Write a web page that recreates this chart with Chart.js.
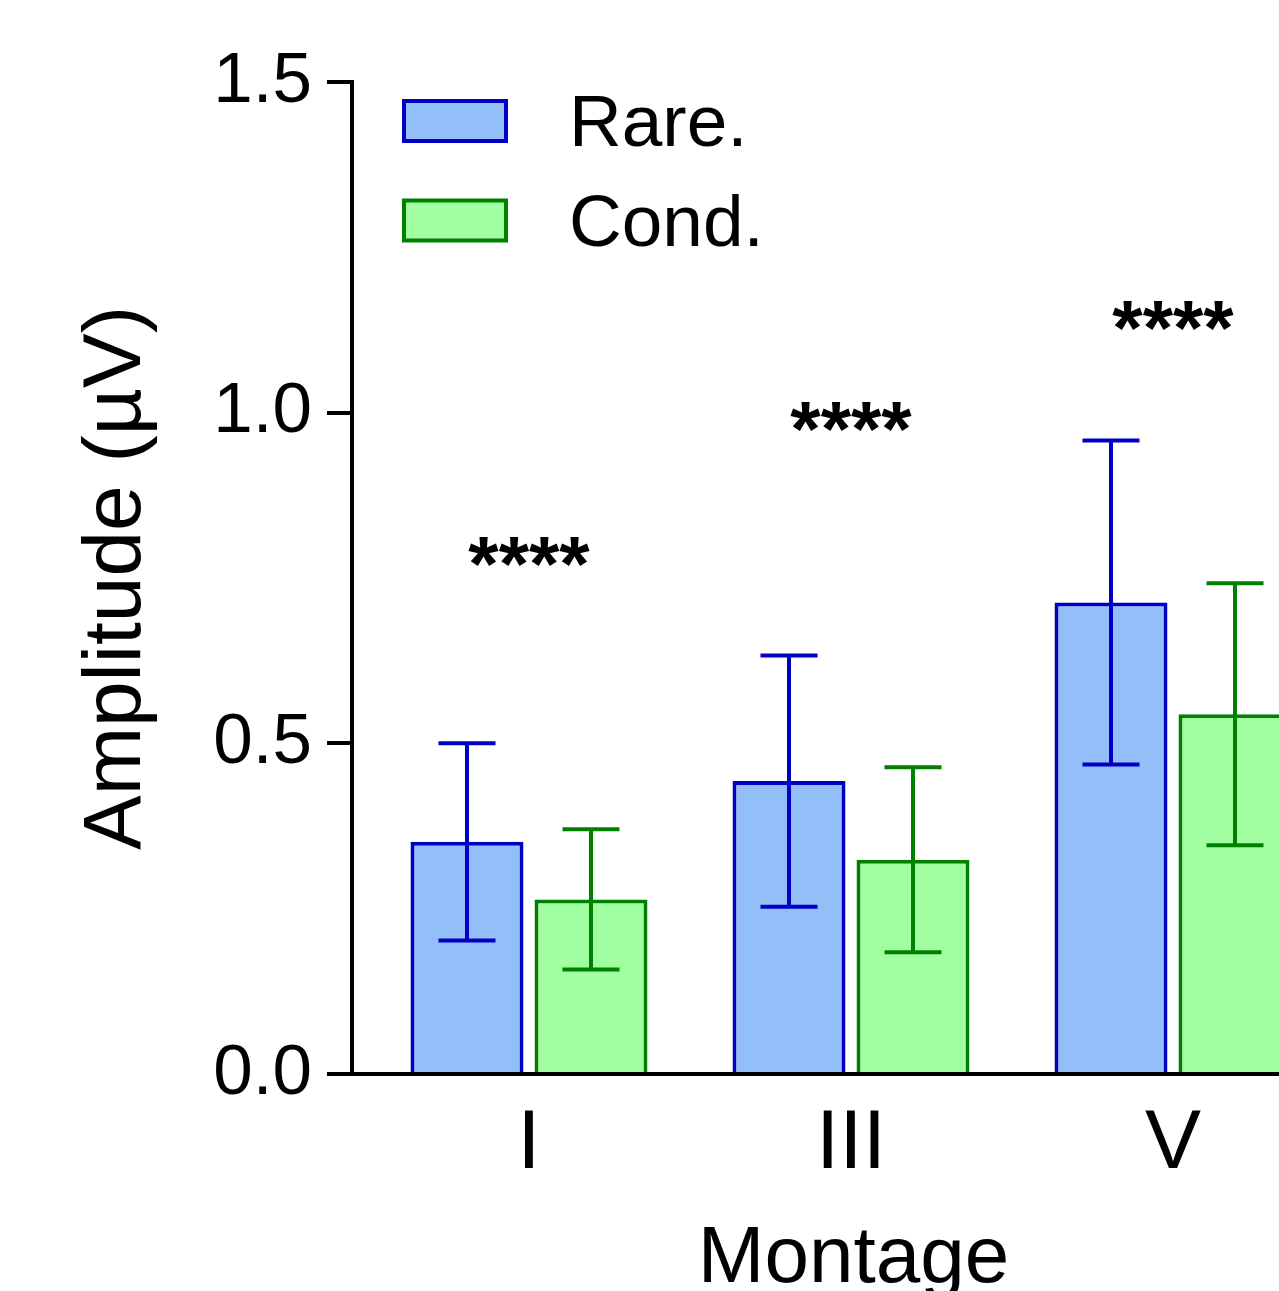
<!DOCTYPE html>
<html lang="en">
<head>
    <meta charset="UTF-8">
    <title>Amplitude by Montage</title>
    <script src="https://cdn.jsdelivr.net/npm/chart.js"></script>
    <style>
        html, body { margin: 0; padding: 0; overflow: hidden; background: #fff; }
        canvas { display: block; position: absolute; left: 0; top: 0; }
    </style>
</head>
<body>
    <canvas id="ampChart" width="1365" height="1310"></canvas>
    <script>
        // values (mean and SD, in µV)
        const montages = ['I', 'III', 'V'];
        const rareMean = [0.351, 0.443, 0.713];
        const rareSD = [0.149, 0.190, 0.245];
        const condMean = [0.264, 0.324, 0.544];
        const condSD = [0.106, 0.140, 0.198];
        const sigText = ['****', '****', '****'];
        const sigLevel = [0.789, 0.993, 1.146];

        const FONT = 'Liberation Sans, Arial, sans-serif';
        Chart.defaults.font.family = FONT;
        Chart.defaults.color = '#000';

        const toPoints = (arr) => arr.map((v, i) => ({ x: i + 1, y: v }));

        // error bars (mean ± SD) on top of each bar
        const errorBars = {
            id: 'errorBars',
            afterDatasetsDraw(chart) {
                const ctx = chart.ctx;
                const yScale = chart.scales.y;
                chart.data.datasets.forEach((ds, di) => {
                    const meta = chart.getDatasetMeta(di);
                    meta.data.forEach((bar, j) => {
                        const m = ds.data[j].y;
                        const sd = ds.sd[j];
                        const yTop = yScale.getPixelForValue(m + sd);
                        const yBot = yScale.getPixelForValue(m - sd);
                        const half = 28.5;
                        ctx.save();
                        ctx.strokeStyle = ds.borderColor;
                        ctx.lineWidth = 4;
                        ctx.beginPath();
                        ctx.moveTo(bar.x, yTop);
                        ctx.lineTo(bar.x, yBot);
                        ctx.moveTo(bar.x - half, yTop);
                        ctx.lineTo(bar.x + half, yTop);
                        ctx.moveTo(bar.x - half, yBot);
                        ctx.lineTo(bar.x + half, yBot);
                        ctx.stroke();
                        ctx.restore();
                    });
                });
            }
        };

        // significance stars above each montage
        const sigStars = {
            id: 'sigStars',
            afterDatasetsDraw(chart) {
                const ctx = chart.ctx;
                const xs = chart.scales.x, ys = chart.scales.y;
                ctx.save();
                ctx.font = 'bold 78px ' + FONT;
                ctx.fillStyle = '#000';
                ctx.textAlign = 'center';
                ctx.textBaseline = 'alphabetic';
                sigText.forEach((t, i) => {
                    const m = ctx.measureText(t);
                    const cy = ys.getPixelForValue(sigLevel[i]);
                    const base = cy + (m.actualBoundingBoxAscent - m.actualBoundingBoxDescent) / 2;
                    ctx.fillText(t, xs.getPixelForValue(i + 1), base);
                });
                ctx.restore();
            }
        };

        // legend in the upper left of the plot
        const boxLegend = {
            id: 'boxLegend',
            afterDraw(chart) {
                const ctx = chart.ctx;
                ctx.save();
                ctx.font = '73px ' + FONT;
                ctx.textBaseline = 'alphabetic';
                chart.data.datasets.forEach((ds, i) => {
                    const top = 99 + i * 99.5;
                    ctx.fillStyle = ds.backgroundColor;
                    ctx.fillRect(404, top + 2, 102, 40);
                    ctx.strokeStyle = ds.borderColor;
                    ctx.lineWidth = 4;
                    ctx.strokeRect(404, top + 2, 102, 40);
                    ctx.fillStyle = '#000';
                    ctx.fillText(ds.label, 569, top + 47);
                });
                ctx.restore();
            }
        };

        const ctx = document.getElementById('ampChart').getContext('2d');
        const chart = new Chart(ctx, {
            type: 'bar',
            data: {
                datasets: [{
                    label: 'Rare.',
                    data: toPoints(rareMean),
                    sd: rareSD,
                    backgroundColor: '#93BFF9',
                    borderColor: '#0000C4',
                    borderWidth: 4,
                    borderSkipped: 'start'
                }, {
                    label: 'Cond.',
                    data: toPoints(condMean),
                    sd: condSD,
                    backgroundColor: '#A1FEA1',
                    borderColor: '#008000',
                    borderWidth: 4,
                    borderSkipped: 'start'
                }]
            },
            options: {
                responsive: false,
                animation: false,
                devicePixelRatio: 1,
                categoryPercentage: 0.7702,
                barPercentage: 0.9113,
                layout: { padding: { top: 82, bottom: 10, left: 0, right: 10 } },
                plugins: {
                    legend: { display: false },
                    tooltip: { enabled: false }
                },
                scales: {
                    x: {
                        type: 'linear',
                        offset: false,
                        min: 0.4503,
                        max: 3.5652,
                        afterBuildTicks: (s) => { s.ticks = montages.map((_, i) => ({ value: i + 1 })); },
                        afterFit: (s) => { s.height = 226; },
                        grid: { display: false, drawTicks: false },
                        border: { display: true, color: '#000', width: 4 },
                        ticks: {
                            autoSkip: false,
                            maxRotation: 0,
                            padding: 29,
                            font: { size: 84, lineHeight: 1 },
                            callback: (v) => montages[v - 1]
                        },
                        title: {
                            display: true,
                            text: 'Montage',
                            font: { size: 80, lineHeight: 1 },
                            padding: 0
                        }
                    },
                    y: {
                        min: 0,
                        max: 1.5,
                        afterFit: (s) => { s.width = 352; },
                        grid: {
                            drawOnChartArea: false,
                            drawTicks: true,
                            tickLength: 25,
                            color: '#000',
                            lineWidth: 4
                        },
                        border: { display: true, color: '#000', width: 4 },
                        ticks: {
                            stepSize: 0.5,
                            padding: 15,
                            font: { size: 71, lineHeight: 1 },
                            callback: (v) => v.toFixed(1)
                        },
                        title: {
                            display: true,
                            text: 'Amplitude (µV)',
                            font: { size: 82, lineHeight: 1 },
                            padding: { top: 76, bottom: 0 }
                        }
                    }
                }
            },
            plugins: [errorBars, sigStars, boxLegend]
        });
    </script>
</body>
</html>
